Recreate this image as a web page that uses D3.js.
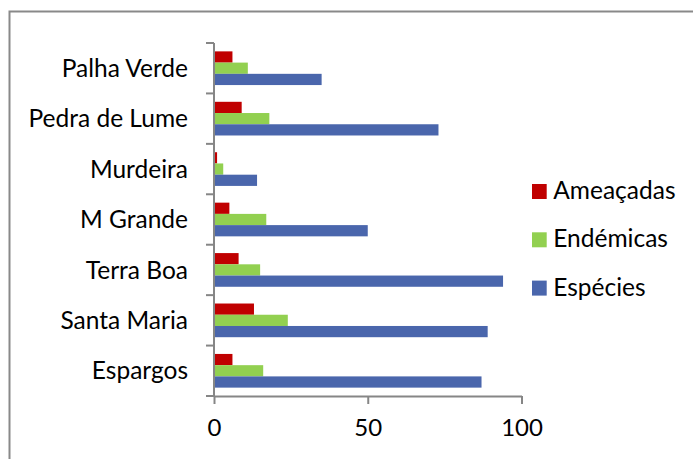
<!DOCTYPE html>
<html>
<head>
<meta charset="utf-8">
<script src="https://cdn.jsdelivr.net/npm/d3@7"></script>
<style>
  html, body { margin: 0; padding: 0; background: #fff; }
  text { font-family: Lato, 'Open Sans', sans-serif; fill: #000; }
</style>
</head>
<body>
<svg id="chart" width="693" height="459"></svg>
<script>
// categories top to bottom
const sites = ['Palha Verde', 'Pedra de Lume', 'Murdeira', 'M Grande', 'Terra Boa', 'Santa Maria', 'Espargos']
const seriesNames = ['Ameaçadas', 'Endémicas', 'Espécies']
const ameacadas = [6, 9, 1, 5, 8, 13, 6]
const endemicas = [11, 18, 3, 17, 15, 24, 16]
const especies = [35, 73, 14, 50, 94, 89, 87]
const xTicks = [0, 50, 100]
const colors = ['#c00000', '#92d050', '#4a66ac']

const values = [ameacadas, endemicas, especies]
const data = sites.map((s, i) => ({site: s, vals: seriesNames.map((n, j) => ({name: n, value: values[j][i]}))}))

const svg = d3.select('#chart')
const plot = {left: 214, right: 521.5, top: 43, bottom: 396}
const axisColor = '#868686'

// outer chart border
svg.append('rect')
    .attr('x', 9.5).attr('y', 11.5)
    .attr('width', 720).attr('height', 480)
    .attr('fill', 'none')
    .attr('stroke', '#898989')
    .attr('stroke-width', 2)

const xScale = d3.scaleLinear().domain([0, 100]).range([plot.left, plot.right])
const yScale = d3.scaleBand().domain(sites).range([plot.top, plot.bottom]).paddingInner(0.332).paddingOuter(0.166)
const subScale = d3.scaleBand().domain(seriesNames).range([0, yScale.bandwidth()])
const colorScale = d3.scaleOrdinal().domain(seriesNames).range(colors)

// bars
const groups = svg.append('g')
    .selectAll('g')
    .data(data)
    .enter()
    .append('g')
    .attr('transform', d => `translate(0,${yScale(d.site)})`)

groups.selectAll('rect')
    .data(d => d.vals)
    .enter()
    .append('rect')
    .attr('x', xScale(0))
    .attr('y', d => subScale(d.name))
    .attr('width', d => xScale(d.value) - xScale(0))
    .attr('height', subScale.bandwidth())
    .attr('fill', d => colorScale(d.name))

// x axis
const xAxis = svg.append('g')
    .attr('transform', `translate(0,${plot.bottom})`)
    .call(d3.axisBottom(xScale).tickValues(xTicks).tickSize(8).tickSizeOuter(0).tickPadding(15))
xAxis.select('.domain').attr('stroke', axisColor).attr('stroke-width', 2)
xAxis.selectAll('.tick line').attr('stroke', axisColor).attr('stroke-width', 2)
xAxis.selectAll('.tick text')
    .attr('font-size', 24)
    .attr('font-family', 'Lato, sans-serif')
    .attr('fill', '#000')

// y axis: line with ticks at band boundaries
const yAxis = svg.append('g')
yAxis.append('line')
    .attr('x1', plot.left).attr('x2', plot.left)
    .attr('y1', plot.top).attr('y2', plot.bottom)
    .attr('stroke', axisColor).attr('stroke-width', 2)
const bounds = d3.range(sites.length + 1).map(i => plot.top + i * yScale.step())
yAxis.selectAll('.ytick')
    .data(bounds)
    .enter()
    .append('line')
    .attr('x1', plot.left - 8).attr('x2', plot.left)
    .attr('y1', d => d).attr('y2', d => d)
    .attr('stroke', axisColor).attr('stroke-width', 2)

yAxis.selectAll('.ylabel')
    .data(sites)
    .enter()
    .append('text')
    .attr('x', 188)
    .attr('y', d => yScale(d) - yScale.step() * 0.166 + yScale.step() / 2 + 8.7)
    .attr('text-anchor', 'end')
    .attr('font-size', 24.5)
    .text(d => d)

// legend
const legend = svg.append('g')
    .selectAll('g')
    .data(seriesNames)
    .enter()
    .append('g')
    .attr('transform', (d, i) => `translate(532,${184 + i * 48.3})`)
legend.append('rect')
    .attr('width', 14.7).attr('height', 15)
    .attr('fill', d => colorScale(d))
legend.append('text')
    .attr('x', 21.3).attr('y', 15)
    .attr('font-size', 24.5)
    .text(d => d)
</script>
</body>
</html>
